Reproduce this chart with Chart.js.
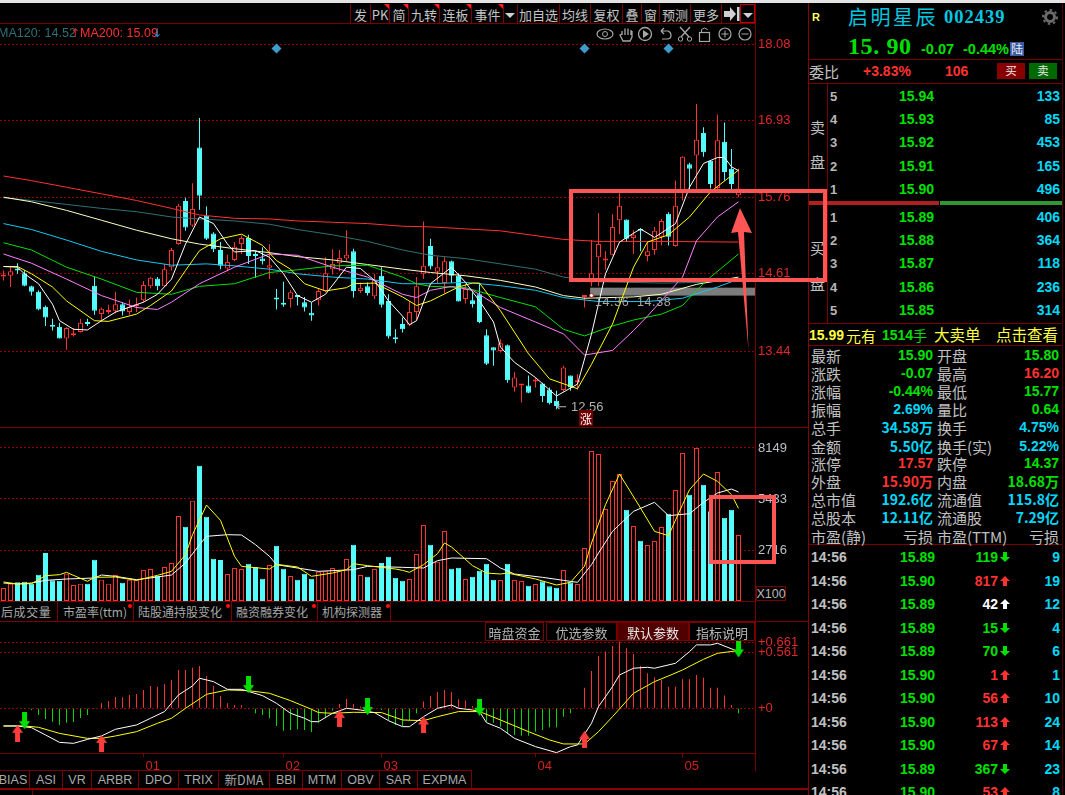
<!DOCTYPE html>
<html><head><meta charset="utf-8">
<style>
html,body{margin:0;padding:0;background:#000;width:1065px;height:795px;overflow:hidden}
canvas{position:absolute;left:0;display:block}
#ui span,#top span{position:absolute;white-space:nowrap;line-height:1;transform:translateY(-50%);font-family:"Liberation Sans",Arial,sans-serif}
#ui div,#top div{position:absolute}
#ui span.cjk,#top span.cjk{font-family:"Noto Sans CJK SC","Liberation Sans",sans-serif}
</style>
<script src="https://cdn.jsdelivr.net/npm/chart.js@4/dist/chart.umd.min.js"></script>
</head><body>
<div id="ui" style="position:absolute;left:0;top:0;width:1065px;height:795px"></div>
<canvas id="cPrice" style="top:24px" width="808" height="403"></canvas>
<canvas id="cVol" style="top:428px" width="808" height="173"></canvas>
<canvas id="cMacd" style="top:622px" width="808" height="149"></canvas>
<div id="top" style="position:absolute;left:0;top:0;width:1065px;height:795px;pointer-events:none"></div>
<script>
// ---------- candles ----------
const opens=[14.57,14.58,14.69,14.62,14.42,14.34,14.11,13.82,13.81,13.63,
13.68,13.73,13.87,14.43,14.00,14.03,14.05,14.15,14.03,14.12,
14.21,14.42,14.54,14.42,14.71,15.06,15.71,15.34,16.52,15.49,
15.22,14.97,14.69,14.82,15.06,15.15,14.90,14.84,14.70,14.23,
14.16,14.23,14.27,14.18,14.02,14.21,14.35,14.68,14.77,14.84,
14.95,14.35,14.42,14.27,14.58,14.20,13.63,13.85,13.84,14.03,
14.61,15.03,14.64,14.47,14.80,14.58,14.23,14.21,14.30,13.68,
13.50,13.44,13.53,12.89,12.92,12.92,12.98,12.95,12.86,12.69,
12.85,13.07,12.97,14.26,14.48,14.86,14.81,14.90,15.42,15.43,
15.15,15.27,14.88,14.97,15.17,15.52,15.03,15.88,16.27,16.40,
16.74,16.32,15.91,16.61,16.20,15.80];
const closes=[14.58,14.65,14.66,14.43,14.34,14.07,13.95,13.81,13.63,13.79,
13.71,13.87,13.85,14.05,14.08,14.06,14.15,14.04,14.11,14.14,
14.44,14.55,14.42,14.68,14.97,15.64,15.31,15.59,15.79,15.14,
14.98,14.73,14.79,15.02,15.15,14.88,14.88,14.80,14.74,14.22,
14.14,14.33,14.26,14.10,13.98,14.35,14.62,14.76,14.85,14.90,
14.35,14.40,14.32,14.52,14.14,13.66,13.62,13.77,14.03,14.42,
14.73,14.72,14.71,14.80,14.58,14.19,14.38,14.15,13.88,13.25,
13.45,13.56,13.00,13.04,12.93,12.81,12.99,12.76,12.65,12.61,
13.19,12.89,12.98,14.27,14.62,15.06,14.84,15.32,15.64,15.14,
15.20,15.26,14.95,15.26,15.41,15.17,15.64,16.38,16.20,16.64,
16.45,15.97,16.63,16.15,15.97,15.90];
const highs=[14.66,14.71,14.77,14.66,14.43,14.36,14.13,13.93,13.87,13.80,
13.79,13.93,13.93,14.57,14.10,14.14,14.34,14.18,14.22,14.25,
14.50,14.56,14.56,14.76,15.00,15.67,15.76,15.98,16.97,15.63,
15.24,15.09,14.90,15.09,15.19,15.20,14.95,15.01,15.06,14.38,
14.49,14.36,14.28,14.26,14.18,14.39,14.86,14.98,14.97,15.27,
14.99,14.48,14.48,14.61,14.71,14.30,13.77,13.95,14.20,14.56,
15.40,15.14,14.87,14.86,14.81,14.62,14.46,14.33,14.47,13.77,
13.50,13.62,13.54,13.12,12.94,13.07,13.04,12.96,12.89,12.84,
13.22,13.07,13.09,14.28,15.12,15.53,14.95,15.51,15.83,15.43,
15.27,15.30,15.10,15.32,15.44,15.54,16.02,16.39,16.29,17.18,
16.83,16.33,17.02,16.90,16.50,16.20];
const lows=[14.51,14.41,14.61,14.42,14.28,14.06,13.82,13.75,13.63,13.46,
13.66,13.72,13.82,13.99,13.88,14.00,14.01,13.98,13.99,14.03,
14.18,14.39,14.36,14.41,14.66,15.05,15.26,15.32,15.58,15.12,
14.94,14.68,14.65,14.80,14.91,14.76,14.55,14.75,14.53,14.07,
14.11,14.10,14.13,14.04,13.90,14.13,14.33,14.60,14.65,14.80,
14.25,14.32,14.28,14.23,14.10,13.63,13.56,13.72,13.82,13.90,
14.53,14.68,14.46,14.32,14.47,14.19,14.16,14.10,13.86,13.23,
13.22,13.42,12.96,12.83,12.66,12.80,12.89,12.67,12.63,12.56,
12.83,12.84,12.86,14.10,14.42,14.42,14.67,14.89,15.21,15.09,
14.91,14.95,14.80,14.90,15.04,15.04,15.02,15.72,15.87,15.87,
16.38,15.90,15.88,16.02,15.87,15.77];
// ---------- moving averages (bar index, value as read) ----------
const ma5X=[0,2,3,5,7,8,10,12,14,16,20,22,24,26,28,30,32,33,36,38,40,42,44,46,49,51,53,55,57,58,59,61,64,66,68,70,71,73,76,79,82,84,86,88,91,93,96,98,100,102,103,104,105];
const ma5=[14.72,14.71,14.61,14.46,14.15,13.90,13.77,13.76,13.90,14.03,14.18,14.30,14.53,15.06,15.47,15.37,15.06,14.94,14.96,14.86,14.61,14.28,14.18,14.30,14.71,14.69,14.51,14.20,13.97,13.84,13.90,14.46,14.71,14.48,14.20,13.88,13.50,13.27,13.04,12.76,12.94,13.70,14.61,15.09,15.29,15.16,15.37,15.92,16.28,16.37,16.37,16.23,16.17];
const ma10X=[0,2,4,7,9,13,15,19,21,24,26,28,31,34,37,39,41,43,46,49,50,53,57,59,61,65,67,68,71,75,78,82,84,87,90,92,95,98,101,105];
const ma10=[14.72,14.72,14.61,14.41,14.20,13.90,13.89,14.00,14.13,14.35,14.66,14.96,15.14,15.21,15.04,14.81,14.68,14.46,14.35,14.40,14.46,14.47,14.26,14.13,14.20,14.41,14.47,14.47,14.05,13.40,13.02,12.87,13.24,13.85,14.71,15.09,15.20,15.47,15.85,16.18];
const ma20X=[0,4,9,14,19,22,24,28,33,38,42,47,52,57,59,61,64,67,71,76,80,83,87,90,92,97,99,102,105];
const ma20=[14.91,14.77,14.53,14.28,14.10,14.07,14.18,14.46,14.71,14.91,14.89,14.71,14.56,14.30,14.25,14.36,14.42,14.36,14.10,13.88,13.70,13.38,13.45,13.75,13.97,14.56,15.11,15.47,15.70];
const ma30X=[0,4,9,14,19,24,28,33,38,42,47,52,57,59,61,66,71,76,80,83,87,90,94,97,99,101,105];
const ma30=[15.08,14.97,14.71,14.53,14.33,14.30,14.42,14.46,14.63,14.67,14.73,14.74,14.56,14.46,14.42,14.40,14.25,14.11,13.77,13.67,13.82,13.91,14.00,14.13,14.36,14.56,14.91];
const ma60X=[0,4,9,14,19,24,29,33,38,42,47,52,57,61,66,71,76,80,85,92,97,102,105];
const ma60=[15.37,15.28,15.12,14.95,14.82,14.74,14.76,14.73,14.68,14.61,14.56,14.53,14.46,14.46,14.48,14.43,14.36,14.25,14.19,14.19,14.24,14.41,14.53];
const ma90X=[0,4,9,14,19,24,28,33,38,42,47,52,57,61,66,71,76,80,83,90,94,99,105];
const ma90=[15.77,15.70,15.57,15.42,15.27,15.14,15.06,14.99,14.93,14.87,14.82,14.75,14.68,14.63,14.58,14.51,14.41,14.28,14.24,14.26,14.30,14.45,14.56];
const ma120X=[0,4,9,14,19,24,28,33,38,42,47,52,57,61,66,71,76,80,85,94,100,105];
const ma120=[15.76,15.72,15.66,15.60,15.55,15.47,15.44,15.41,15.36,15.28,15.20,15.10,14.97,14.89,14.84,14.76,14.68,14.56,14.49,14.47,14.48,14.52];
const ma200X=[0,4,9,14,19,24,28,33,38,42,47,52,57,61,66,71,80,85,94,105];
const ma200=[16.09,16.02,15.92,15.82,15.72,15.60,15.50,15.45,15.44,15.41,15.39,15.37,15.33,15.32,15.29,15.26,15.13,15.10,15.10,15.09];
const priceTicks=[18.08,16.93,15.76,14.61,13.44];
const diamondX=[39,83,95];
const diamondY=[18.02,18.02,18.02];
const bandRange=[14.28,14.40];
const bandStart=83.8;
// ---------- volume (x100) ----------
const volumes=[692,923,994,1030,923,1402,2556,1100,1083,1456,852,923,923,2201,1136,923,1385,976,1136,1100,
1651,1704,1349,1811,2024,4526,3958,5343,7207,4491,2254,2183,1438,1757,1704,1988,1811,1189,1917,2947,
1722,1331,1136,1456,1189,1562,1580,1757,1580,2237,3000,1385,1296,1704,2024,2361,1243,1083,1172,2503,
4047,3000,2095,3728,1722,1775,1172,1296,1615,1988,1136,1118,1988,1118,1065,817,905,1047,781,710,
1651,994,905,2822,7988,7828,4899,6390,6763,4864,3994,3213,2982,3195,3941,4651,5911,7881,5662,8149,
6195,4775,6869,4438,4864,3515];
const vma5X=[0,2,4,6,8,9,12,13,16,19,22,24,26,27,29,31,33,34,38,39,42,44,47,49,50,52,56,57,58,60,62,63,64,67,69,71,72,76,79,81,83,84,86,88,91,93,95,97,98,100,102,104,105];
const vma5=[1012,905,923,1349,1402,1527,1047,1260,1278,1100,1367,1580,2467,3532,5112,4296,2379,1846,1704,1953,1811,1314,1491,1669,1988,1882,1704,1633,1527,1935,2521,3089,2876,1882,1491,1438,1491,1172,852,994,1846,3089,5130,6763,4952,3710,3479,5130,5929,6763,6372,5662,4935];
const vma10X=[0,2,4,6,9,13,14,16,19,22,24,26,28,29,32,34,36,38,39,42,45,50,52,57,60,62,64,69,71,73,77,80,82,84,85,87,90,93,95,98,100,102,104,105];
const vma10=[958,905,958,1100,1172,1225,1385,1314,1136,1278,1385,2024,3000,3444,3532,3515,3000,2379,1935,1757,1580,1669,1846,1793,1757,2148,2290,2254,1757,1438,1260,1100,994,1935,2556,3710,4775,5254,4544,4651,5254,5751,5964,5804];
const volTicks=[8149,5433,2716];
// ---------- MACD ----------
const macdBars=[0,-0.003,0.007,-0.003,-0.017,-0.067,-0.107,-0.134,-0.167,-0.144,-0.137,-0.097,-0.067,-0.003,0.050,0.073,0.114,0.110,0.134,0.144,
0.184,0.224,0.217,0.244,0.284,0.384,0.384,0.407,0.424,0.324,0.224,0.124,0.050,0.033,0.033,-0.010,-0.050,-0.067,-0.100,-0.177,
-0.224,-0.217,-0.210,-0.217,-0.237,-0.144,-0.100,-0.023,0.043,0.094,0.043,0.017,0.010,-0.003,-0.017,-0.117,-0.167,-0.177,-0.117,-0.050,
0.067,0.124,0.164,0.184,0.164,0.090,0.077,0.023,-0.033,-0.134,-0.144,-0.184,-0.251,-0.267,-0.274,-0.274,-0.234,-0.217,-0.190,-0.190,
-0.084,-0.050,0,0.207,0.374,0.524,0.568,0.625,0.668,0.601,0.544,0.424,0.351,0.311,0.284,0.217,0.217,0.291,0.291,0.334,
0.307,0.207,0.207,0.127,0.033,-0.050];
const difX=[0,2,4,6,8,10,12,14,16,19,21,23,25,27,28,30,32,34,37,39,41,43,44,45,47,49,51,53,55,57,58,60,62,64,65,67,68,69,71,73,76,79,81,82,84,85,87,88,90,92,93,96,98,99,101,102,105];
const dif=[-0.177,-0.177,-0.194,-0.267,-0.341,-0.351,-0.311,-0.277,-0.210,-0.167,-0.100,-0.033,0.134,0.224,0.301,0.267,0.190,0.190,0.127,0.050,-0.050,-0.100,-0.134,-0.134,-0.050,0,-0.017,-0.043,-0.124,-0.184,-0.184,-0.084,0,0.033,0,-0.017,-0.033,-0.144,-0.200,-0.301,-0.384,-0.444,-0.384,-0.367,-0.150,0.017,0.217,0.334,0.401,0.411,0.401,0.451,0.568,0.635,0.635,0.651,0.568];
const deaX=[0,3,5,8,12,14,16,19,22,24,26,29,32,35,38,41,44,45,47,50,54,57,60,62,65,68,71,75,78,80,83,85,87,90,93,95,97,100,102,105];
const dea=[-0.177,-0.177,-0.190,-0.251,-0.301,-0.301,-0.277,-0.234,-0.150,-0.100,0,0.140,0.184,0.177,0.150,0.077,-0.010,-0.043,-0.050,-0.040,-0.043,-0.117,-0.124,-0.084,-0.033,-0.033,-0.117,-0.234,-0.317,-0.357,-0.357,-0.234,-0.084,0.150,0.267,0.324,0.384,0.491,0.551,0.578];
const macdTicks=[0.661,0.561,0];
const buyX=[2,14,48,60,83];
const buyY=[-0.25,-0.351,-0.10,-0.167,-0.311];
const sellX=[3,35,52,68,105];
const sellY=[-0.124,0.237,0.017,0.010,0.595];
const monthX=[20,40,54,76,97];
const monthLabels=['01','02','03','04','05'];
// ---------- quote panel ----------
const askPrices=['15.94','15.93','15.92','15.91','15.90'];
const askVols=['133','85','453','165','496'];
const bidPrices=['15.89','15.88','15.87','15.86','15.85'];
const bidVols=['406','364','118','236','314'];
const G='#00e000',R='#ff3232',C='#00d8f8',Y='#ffff40',W='#c0c0c0';
const statL=[['最新','15.90',G],['涨跌','-0.07',G],['涨幅','-0.44%',G],['振幅','2.69%',C],['总手','34.58万',C],['金额','5.50亿',C],['涨停','17.57',R],['外盘','15.90万',R],['总市值','192.6亿',C],['总股本','12.11亿',C],['市盈(静)','亏损',W]];
const statR=[['开盘','15.80',G],['最高','16.20',R],['最低','15.77',G],['量比','0.64',G],['换手','4.75%',C],['换手(实)','5.22%',C],['跌停','14.37',G],['内盘','18.68万',G],['流通值','115.8亿',C],['流通股','7.29亿',C],['市盈(TTM)','亏损',W]];
const tickPrices=['15.89','15.90','15.89','15.89','15.89','15.90','15.90','15.90','15.90','15.89','15.90'];
const tickVols=[119,817,42,15,70,1,56,113,67,367,53];
const tickDirs=['d','u','n','d','d','u','u','u','u','d','u'];
const tickCounts=[9,19,12,4,6,1,10,24,14,23,8];

const CY='#54fcfc',RD='#ff3232',DK='#8a0000',LINE='#7a0000';
const idx=closes.map((_,i)=>i);
const pts=(xs,ys)=>xs.map((x,i)=>({x,y:ys[i]}));
const up=i=>closes[i]>=opens[i];
const XMIN=-0.5,XMAX=107.357;
const lineDs=(xs,ys,color,order)=>({type:'line',data:pts(xs,ys),borderColor:color,borderWidth:1,pointRadius:0,tension:0,order:order});
const xScale={type:'linear',min:XMIN,max:XMAX,display:false,offset:false};
function yScale(min,max,ticks,fmt,color){return {type:'linear',position:'right',min,max,
  afterBuildTicks:s=>{s.ticks=ticks.map(v=>({value:v}))},
  afterFit:s=>{s.width=53;s.paddingTop=0;s.paddingBottom=0},
  ticks:{callback:fmt,color,padding:3,font:{family:'Liberation Sans',size:13},autoSkip:false,maxRotation:0},
  grid:{color:DK,drawTicks:false,lineWidth:1},
  border:{dash:[2,2],color:LINE,display:true}};}
const baseOpts={responsive:false,animation:false,devicePixelRatio:1,events:[],
  layout:{padding:0,autoPadding:false},plugins:{legend:{display:false},tooltip:{enabled:false}}};

// price panel
const bandPlugin={id:'band',beforeDatasetsDraw(c){const x=c.scales.x,y=c.scales.y,g=c.ctx;
  g.save();g.fillStyle='#7c7c7c';const a=x.getPixelForValue(bandStart),t=y.getPixelForValue(bandRange[1]),b=y.getPixelForValue(bandRange[0]);
  g.fillRect(a,t,c.chartArea.right-a,b-t);g.restore();}};
new Chart(document.getElementById('cPrice'),{type:'bar',plugins:[bandPlugin],data:{datasets:[
  {data:idx.map(i=>({x:i,y:[lows[i],highs[i]]})),backgroundColor:idx.map(i=>up(i)?RD:CY),barThickness:1,grouped:false,inflateAmount:0,order:30},
  {data:idx.map(i=>({x:i,y:[opens[i],closes[i]]})),backgroundColor:idx.map(i=>up(i)?'#000':CY),borderColor:idx.map(i=>up(i)?RD:CY),borderWidth:1,borderSkipped:false,barThickness:5,minBarLength:2,grouped:false,inflateAmount:0,order:20},
  lineDs(ma200X,ma200,'#ff3030',11),lineDs(ma120X,ma120,'#2f7076',10),lineDs(ma90X,ma90,'#ffffc0',9),lineDs(ma60X,ma60,'#14c8f0',8),
  lineDs(ma30X,ma30,'#00e000',7),lineDs(ma20X,ma20,'#ff80ff',6),lineDs(ma10X,ma10,'#ffff00',5),lineDs(ma5X,ma5,'#ffffff',4),
  {type:'scatter',data:pts(diamondX,diamondY),pointStyle:'rectRot',pointRadius:5,backgroundColor:'#3c9ccc',borderWidth:0,order:1}
]},options:{...baseOpts,scales:{x:xScale,y:yScale(12.291,18.391,priceTicks,v=>v.toFixed(2),'#e02828')}}});

// volume panel
new Chart(document.getElementById('cVol'),{type:'bar',data:{datasets:[
  {data:idx.map(i=>({x:i,y:volumes[i]})),backgroundColor:idx.map(i=>up(i)?'#000':CY),borderColor:idx.map(i=>up(i)?RD:CY),borderWidth:1,borderSkipped:false,barThickness:5,grouped:false,inflateAmount:0,order:20},
  lineDs(vma10X,vma10,'#ffffff',5),lineDs(vma5X,vma5,'#ffff00',4)
]},options:{...baseOpts,scales:{x:xScale,y:yScale(0,9214,volTicks,v=>String(v),'#b8c0c8')}}});

// MACD panel
function arrowImg(color,dir){const c=document.createElement('canvas');c.width=11;c.height=17;const g=c.getContext('2d');g.fillStyle=color;g.beginPath();
  const P=[[5.5,0],[11,8],[8,8],[8,17],[3,17],[3,8],[0,8]];
  P.forEach(([x,y],i)=>{const Y=dir>0?y:17-y;i?g.lineTo(x,Y):g.moveTo(x,Y)});g.closePath();g.fill();return c;}
new Chart(document.getElementById('cMacd'),{type:'bar',data:{datasets:[
  {data:idx.map(i=>({x:i,y:macdBars[i]})),backgroundColor:idx.map(i=>macdBars[i]>=0?'#ff3030':'#00d800'),barThickness:1,grouped:false,inflateAmount:0,order:20},
  lineDs(deaX,dea,'#ffff00',5),lineDs(difX,dif,'#ffffff',4),
  {type:'scatter',data:pts(buyX,buyY),pointStyle:arrowImg('#ff3c3c',1),order:1},
  {type:'scatter',data:pts(sellX,sellY),pointStyle:arrowImg('#00e000',-1),order:1}
]},options:{...baseOpts,scales:{
  x:{type:'linear',min:XMIN,max:XMAX,position:'bottom',offset:false,
    afterBuildTicks:s=>{s.ticks=monthX.map(v=>({value:v}))},afterFit:s=>{s.height=18;s.paddingLeft=0;s.paddingRight=0},
    ticks:{callback:v=>monthLabels[monthX.indexOf(v)],color:'#d42020',align:'start',labelOffset:2,padding:2,autoSkip:false,maxRotation:0,font:{family:'Liberation Sans',size:13}},
    grid:{drawOnChartArea:false,offset:false,color:LINE,tickLength:4},border:{color:LINE}},
  y:yScale(-0.4477,0.8643,macdTicks,v=>(v===0?'+0':'+'+v.toFixed(3)),'#e02828')}}});

// ---------- static furniture ----------
const ui=document.getElementById('ui');
function t(s,x,y,o={}){const e=document.createElement('span');e.textContent=s;e.style.top=y+'px';
  if(o.right)e.style.right=(1065-x)+'px';else if(o.center){e.style.left=x+'px';e.style.transform='translate(-50%,-50%)';}else e.style.left=x+'px';
  e.style.color=o.c||W;e.style.fontSize=(o.s||14)+'px';if(o.b)e.style.fontWeight='bold';if(o.cjk)e.className='cjk';if(o.ff)e.style.fontFamily=o.ff;if(o.ls)e.style.letterSpacing=o.ls+'px';
  (o.host||ui).appendChild(e);return e;}
function box(x,y,w,h,c,host){const e=document.createElement('div');e.style.cssText=`left:${x}px;top:${y}px;width:${w}px;height:${h}px;background:${c}`;(host||ui).appendChild(e);return e;}
const dr='#7a0000';
box(0,0,1065,3,'#e4e4e4');
// chart frame lines
box(350,23,405,1,dr);box(0,23,350,1,dr);box(0,427,808,1,dr);box(0,601,755,1,dr);box(0,621,808,1,dr);box(0,770,472,1,dr);box(0,788,808,2,'#8a0000');
box(755,3,1,768,dr);box(808,3,1,792,'#8a0000');box(1062,3,1,792,'#500000');box(32,790,1,5,dr);
// top toolbar
const seps=[350,370,389,408,439,471,503,517,559,590,622,641,659,690,721,740,755];
seps.forEach(x=>box(x,4,1,19,dr));
const tools=['发','PK','简','九转','连板','事件','','加自选','均线','复权','叠','窗','预测','更多'];
tools.forEach((s,i)=>{if(s)t(s,(seps[i]+seps[i+1])/2+0.5,14,{center:1,cjk:1,s:13,c:'#c4c4c4'})});
function tri(x,y,w,c,host){const e=document.createElement('div');e.style.cssText=`left:${x-w}px;top:${y}px;width:0;height:0;border-top:${w}px solid ${c};border-left:${w}px solid transparent`;(host||ui).appendChild(e);}
[0,1,2,3,4].forEach(i=>tri(seps[i+2],4,5,'#ff2020'));
const svgNS='http://www.w3.org/2000/svg';
function svg(html,x,y,w,h,host){const d=document.createElement('div');d.style.cssText=`left:${x}px;top:${y}px;width:${w}px;height:${h}px`;d.innerHTML=`<svg xmlns="${svgNS}" width="${w}" height="${h}" viewBox="0 0 ${w} ${h}" style="display:block">${html}</svg>`;(host||ui).appendChild(d);}
svg('<polygon points="1,9 7,9 7,5 13,12 7,19 7,15 1,15" fill="#d0d0d0"/><rect x="14" y="5" width="2.5" height="14" fill="#d0d0d0"/>',723,2,18,22);
svg('<polygon points="1,10 11,10 6,15" fill="#d0d0d0"/>',742,3,12,20);
svg('<polygon points="1,10 11,10 6,15" fill="#d0d0d0"/>',504,3,12,20);
const dd=box(740,4,15,19,'transparent');dd.style.boxSizing='border-box';dd.style.border='1px solid #c00000';
// icon row
const ic='#a8a8a8';
svg(`<ellipse cx="10" cy="8" rx="8" ry="5" fill="none" stroke="${ic}" stroke-width="1.2"/><circle cx="10" cy="8" r="2.5" fill="none" stroke="${ic}"/>`,595,26,20,16);
svg(`<path d="M4 9V5M7 9V2.5M10 9V2.5M13 9V4M4 8L2 9L5 15H12L14 11V5" fill="none" stroke="${ic}" stroke-width="1.3"/>`,618,26,16,16);
svg(`<circle cx="8" cy="8" r="6.5" fill="none" stroke="${ic}" stroke-width="1.3"/><polygon points="6,4 12,8 6,12" fill="${ic}"/>`,637,26,16,16);
svg(`<path d="M3 5H10Q13 6 13 9.5Q13 13 9 13H4M3 5L6 2M3 5L6 8" fill="none" stroke="${ic}" stroke-width="1.2"/>`,658,26,16,16);
svg(`<path d="M3 1L12 11M13 1L4 11" stroke="${ic}" stroke-width="1.3"/><circle cx="3.5" cy="13" r="2.2" fill="none" stroke="${ic}"/><circle cx="12.5" cy="13" r="2.2" fill="none" stroke="${ic}"/>`,677,26,16,16);
svg(`<rect x="2.5" y="6.5" width="10" height="9" fill="none" stroke="${ic}" stroke-width="1.2"/><path d="M4.5 6V3.5Q7.5 0.5 10.5 3.5V4" fill="none" stroke="${ic}"/>`,697,26,16,16);
svg(`<circle cx="8" cy="8" r="6" fill="none" stroke="${ic}" stroke-width="1.2"/><path d="M4.5 8H11.5M8 4.5V11.5" stroke="${ic}"/>`,717,26,16,16);
svg(`<circle cx="8" cy="8" r="6" fill="none" stroke="${ic}" stroke-width="1.2"/><path d="M4.5 8H11.5" stroke="${ic}"/>`,737,26,16,16);
// chart overlays
const topLayer=document.getElementById('top');
t('MA120: 14.52',-2,33,{c:'#2f7076',s:12.5,host:topLayer});t('↑',70,33,{c:'#e02828',s:12,ff:'DejaVu Sans',host:topLayer});
t('MA200: 15.09',80,33,{c:'#ff3030',s:12.5,host:topLayer});t('↓',152,33,{c:'#1890e0',s:12,ff:'DejaVu Sans',host:topLayer});
t('14.36',595,302,{c:'#a8a8a8',s:12.5,host:topLayer,ls:0.6});t('14.38',637,302,{c:'#a8a8a8',s:12.5,host:topLayer,ls:0.6});
t('←',556,406,{c:'#b0b0b0',s:13,host:topLayer,ff:'DejaVu Sans'});t('12.56',571,406,{c:'#b0b0b0',s:13,host:topLayer});
box(579,410,14,16,'#700000',topLayer);t('涨',586,419,{center:1,cjk:1,c:'#fff',s:12,host:topLayer});
const dot=box(589,293,3,3,'#ffffff',topLayer);dot.style.border='1px solid #c02020';dot.style.borderRadius='3px';
// volume label
const xb=box(756,586,30,15,'#000');xb.style.boxSizing='border-box';xb.style.border='1px solid '+dr;t('X100',771,594,{center:1,c:'#b8b8b8',s:12.5});
// lower tabs
[[57],[133],[231],[317],[390]].forEach(([x])=>box(x,602,1,19,dr));
t('后成交量',1,612,{cjk:1,s:12,c:'#a8a8a8',ls:0.6});t('市盈率(ttm)',63,612,{cjk:1,s:12,c:'#a8a8a8'});
t('陆股通持股变化',138,612,{cjk:1,s:12,c:'#a8a8a8'});t('融资融券变化',236,612,{cjk:1,s:12,c:'#a8a8a8'});t('机构探测器',322,612,{cjk:1,s:12,c:'#a8a8a8'});
[127.5,225.5,311.5,385.5].forEach(x=>{const d=box(x,604,4,4,'#ff1010');d.style.borderRadius='2px'});
// indicator tab (above the chart canvas so the labels stay visible)
[[485,59,'暗盘资金','#000','#b0b0b0'],[546,71,'优选参数','#000','#b0b0b0'],[617,72,'默认参数','#500000','#e8e8e8'],[689,66,'指标说明','#000','#b8b8b8']].forEach(([x,w,s,bg,c])=>{
  const b=box(x,622,w,19,bg,topLayer);b.style.boxSizing='border-box';b.style.border='1px solid '+dr;t(s,x+w/2,632,{center:1,cjk:1,s:13,c,host:topLayer});});
// bottom tabs
const botSeps=[29,62,91,138,178,218,269,302,341,379,417,471];
const botTabs=['BIAS','ASI','VR','ARBR','DPO','TRIX','新DMA','BBI','MTM','OBV','SAR','EXPMA'];
botSeps.forEach(x=>box(x,771,1,17,dr));
botTabs.forEach((s,i)=>{const x0=i?botSeps[i-1]:-4;t(s,(x0+botSeps[i])/2+0.5,779.5,{center:1,s:12.5,c:'#a8a8a8',cjk:s[0]==='新'})});
// ---------- quote panel ----------
t('R',812,17,{c:'#ffff60',s:11,b:1});
t('启明星辰',848,16.5,{cjk:1,c:'#00c8e0',s:20,ls:2.5});t('002439',944,16.5,{c:'#00c8e0',s:18.5,b:1,ff:'Liberation Serif',ls:1});
svg('<circle cx="8" cy="8" r="4.5" fill="none" stroke="#6a6a6a" stroke-width="3"/><circle cx="8" cy="8" r="7" fill="none" stroke="#6a6a6a" stroke-width="2" stroke-dasharray="2.4 3"/>',1042,9,16,16);
t('15. 90',848,46,{c:'#00e000',s:24,b:1,ff:'Liberation Serif',ls:0.6});t('-0.07',921,49,{c:G,s:14.5,b:1});t('-0.44%',963,49,{c:G,s:14.5,b:1});
box(1010,42,14,14,'#3a5aa8');t('陆',1017,49,{center:1,cjk:1,c:'#eaeaea',s:12});
box(809,59,253,1,dr);box(809,83,253,1,dr);box(809,323,253,1,dr);box(809,345,253,1,dr);box(809,544,253,1,dr);box(827,83,1,240,dr);
t('委比',809,71,{cjk:1,c:'#c0c0c0',s:15});t('+3.83%',863,71,{c:R,s:14,b:1});t('106',945,71,{c:R,s:14,b:1});
box(997,63,28,16,'#880000');t('买',1011,71,{center:1,cjk:1,c:'#e8e8e8',s:11.5});box(1029,63,28,16,'#006a00');t('卖',1043,71,{center:1,cjk:1,c:'#e8e8e8',s:11.5});
t('卖',817.5,126,{center:1,cjk:1,s:15});t('盘',817.5,161,{center:1,cjk:1,s:15});t('买',817.5,247,{center:1,cjk:1,s:15});t('盘',817.5,283,{center:1,cjk:1,s:15});
const askY=[96,119,142,166,189],bidY=[217,240,263,287,310];
askPrices.forEach((p,i)=>{t(String(5-i),830,askY[i],{s:13,b:1,c:'#b8b8b8'});t(p,934,askY[i],{right:1,c:G,s:14,b:1});t(askVols[i],1060,askY[i],{right:1,c:C,s:14,b:1});});
bidPrices.forEach((p,i)=>{t(String(i+1),830,bidY[i],{s:13,b:1,c:'#b8b8b8'});t(p,934,bidY[i],{right:1,c:G,s:14,b:1});t(bidVols[i],1060,bidY[i],{right:1,c:C,s:14,b:1});});
box(809,201,130,4,'#b02020');box(940,201,122,4,'#329632');
t('15.99',809,334.5,{c:Y,s:14,b:1});t('元有',846,334.5,{cjk:1,c:Y,s:15});t('1514',882,334.5,{c:G,s:14,b:1});t('手',913,334.5,{cjk:1,c:G,s:14});t('大卖单',934,334.5,{cjk:1,c:Y,s:15.5});t('点击查看',996,334.5,{cjk:1,c:Y,s:15.5});
const rowY=[355,373,391,409,427,446,463,481,499,517,536];
statL.forEach(([a,b,c],i)=>{t(a,811,rowY[i],{cjk:1,s:15,c:'#c0c0c0'});t(b,933,rowY[i],{right:1,cjk:/[万亿亏]/.test(b),c,s:/[亏]/.test(b)?15:14,b:!/[亏]/.test(b)});});
statR.forEach(([a,b,c],i)=>{t(a,937,rowY[i],{cjk:1,s:15,c:'#c0c0c0'});t(b,1059,rowY[i],{right:1,cjk:/[万亿亏]/.test(b),c,s:/[亏]/.test(b)?15:14,b:!/[亏]/.test(b)});});
const tickY=[557,581,604,628,651,675,698,722,745,769,792];
tickPrices.forEach((p,i)=>{const d=tickDirs[i],col=d==='d'?G:d==='u'?R:'#ffffff';
  t('14:56',811,tickY[i],{s:14,b:1,c:'#c0c0c0'});t(p,935,tickY[i],{right:1,c:G,s:14,b:1});
  t(String(tickVols[i]),998,tickY[i],{right:1,c:col,s:14,b:1});
  const pg=d==='d'?'3,0 7,0 7,5 10,5 5,10 0,5 3,5':'5,0 10,5 7,5 7,10 3,10 3,5 0,5';
  svg(`<polygon points="${pg}" fill="${col}"/>`,1000,tickY[i]-5,10,10);
  t(String(tickCounts[i]),1060,tickY[i],{right:1,c:C,s:14,b:1});});
// ---------- hand-drawn annotations ----------
const ann='#ff5555';
const mk=(x,y,w,h)=>box(x,y,w,h,ann,topLayer);
mk(569,189,258,4);mk(569,278,258,4);mk(569,189,4,93);mk(823,189,4,93);
mk(709,495,67,4);mk(709,560,67,4);mk(709,495,4,69);mk(772,495,4,69);
svg(`<polygon points="740,208 752,233 744,232 748.5,350 738,232 731,233" fill="${ann}"/>`,0,0,1065,795,topLayer);
</script>
</body></html>
